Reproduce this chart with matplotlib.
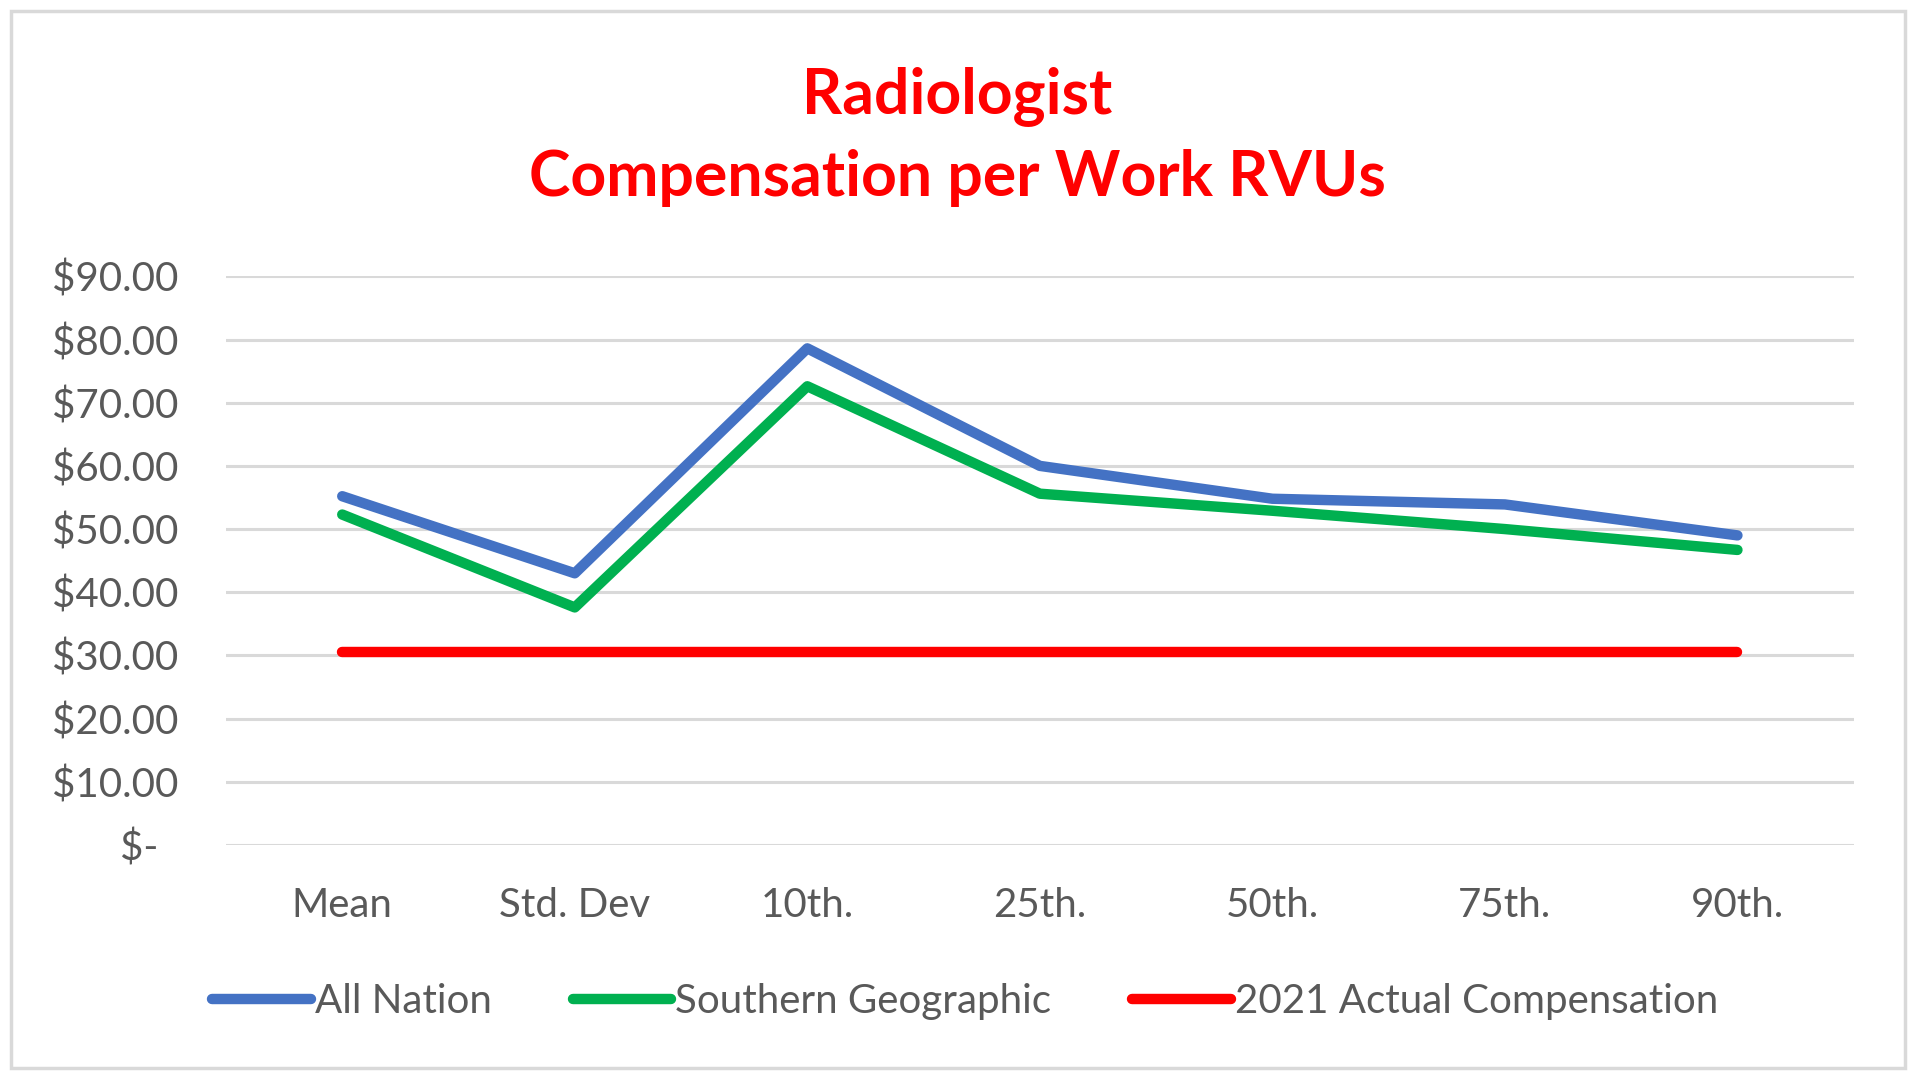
import matplotlib.pyplot as plt
from matplotlib.patches import Rectangle
from matplotlib.ticker import FuncFormatter, MultipleLocator

categories = ["Mean", "Std. Dev", "10th.", "25th.", "50th.", "75th.", "90th."]
all_nation = [55.2, 43.0, 78.6, 60.0, 54.8, 53.9, 49.0]
southern = [52.3, 37.6, 72.6, 55.6, 52.9, 50.0, 46.7]
actual_2021 = [30.6, 30.6, 30.6, 30.6, 30.6, 30.6, 30.6]

FONT = "Lato"
GRAY = "#595959"

fig = plt.figure(figsize=(19.15, 10.71), dpi=100)
fig.patches.append(Rectangle((0.006, 0.003), 0.989, 0.987, transform=fig.transFigure,
                             fill=False, edgecolor="#d9d9d9", linewidth=2.5))

ax = fig.add_axes([0.118, 0.211, 0.850, 0.531])
x = range(len(categories))
ax.plot(x, all_nation, color="#4472c4", linewidth=7.5, solid_capstyle="round", label="All Nation", zorder=3)
ax.plot(x, southern, color="#00b050", linewidth=7.5, solid_capstyle="round", label="Southern Geographic", zorder=3)
ax.plot(x, actual_2021, color="#ff0000", linewidth=7.5, solid_capstyle="round", label="2021 Actual Compensation", zorder=3)

ax.set_xlim(-0.5, len(categories) - 0.5)
ax.set_ylim(0, 90)
ax.yaxis.set_major_locator(MultipleLocator(10))
ax.yaxis.set_major_formatter(FuncFormatter(lambda v, p: "$-  " if v == 0 else f"${v:.2f}"))
ax.set_xticks(list(x))
ax.set_xticklabels(categories)
ax.grid(axis="y", color="#d9d9d9", linewidth=2.2)
ax.set_axisbelow(True)
for s in ax.spines.values():
    s.set_visible(False)
ax.tick_params(length=0, labelcolor=GRAY, labelsize=29)
ax.tick_params(axis="y", pad=34)
ax.tick_params(axis="x", pad=30)
for lbl in ax.get_xticklabels() + ax.get_yticklabels():
    lbl.set_fontfamily(FONT)

fig.text(0.5, 0.910, "Radiologist", ha="center", va="center", color="#ff0000",
         fontsize=45, fontweight="bold", fontfamily=FONT)
fig.text(0.5, 0.834, "Compensation per Work RVUs", ha="center", va="center", color="#ff0000",
         fontsize=45, fontweight="bold", fontfamily=FONT)

leg = fig.legend(loc="center", bbox_to_anchor=(0.504, 0.065), ncol=3, frameon=False,
                 prop={"family": FONT, "size": 29}, handlelength=2.45, handletextpad=0.1,
                 columnspacing=2.0)
for t in leg.get_texts():
    t.set_color(GRAY)

fig.savefig("out.png", dpi=100)
